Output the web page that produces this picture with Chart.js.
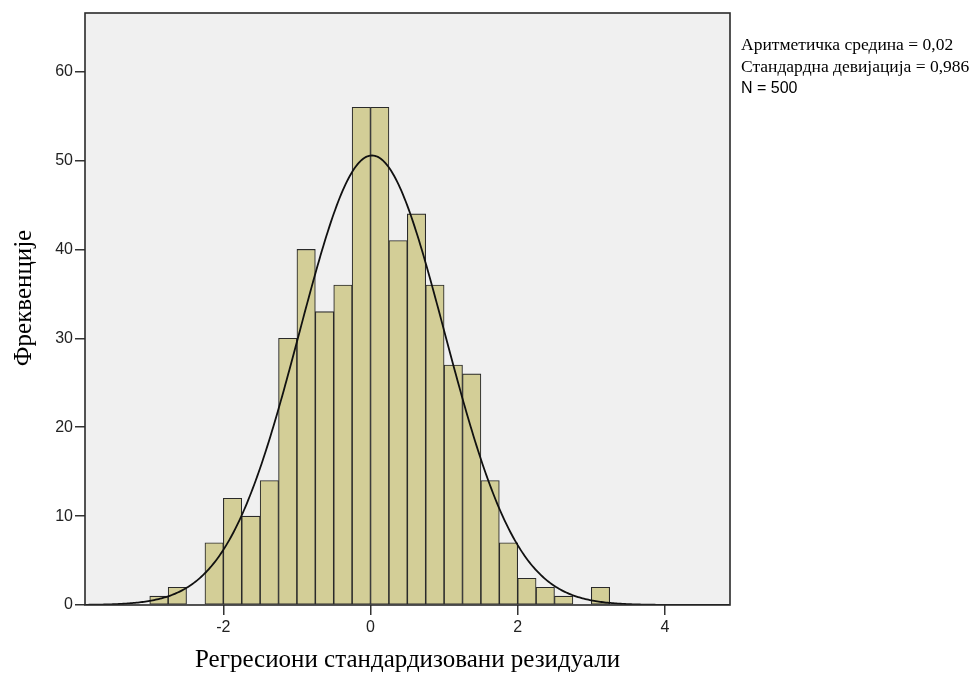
<!DOCTYPE html>
<html>
<head>
<meta charset="utf-8">
<script src="https://cdn.jsdelivr.net/npm/chart.js@4/dist/chart.umd.min.js"></script>
<style>
  html, body { margin: 0; padding: 0; background: #ffffff; }
  #wrap { width: 973px; height: 675px; }
</style>
</head>
<body>
<div id="wrap"><canvas id="hist" width="973" height="675"></canvas></div>
<script>
// Histogram of standardized regression residuals (bin width 0.25)
const binStarts = [-3.00, -2.75, -2.50, -2.25, -2.00, -1.75, -1.50, -1.25, -1.00, -0.75,
                   -0.50, -0.25, 0.00, 0.25, 0.50, 0.75, 1.00, 1.25, 1.50, 1.75,
                   2.00, 2.25, 2.50, 2.75, 3.00];
const counts = [1, 2, 0, 7, 12, 10, 14, 30, 40, 33,
                36, 56, 56, 41, 44, 36, 27, 26, 14, 7,
                3, 2, 1, 0, 2];
const binWidth = 0.25;

// Summary statistics shown beside the plot
const meanValue = 0.02;
const sdValue = 0.986;
const nValue = 500;
const statLines = ['Аритметичка средина = 0,02', 'Стандардна девијација = 0,986', 'N = 500'];

const xTickValues = [-2, 0, 2, 4];
const yTickValues = [0, 10, 20, 30, 40, 50, 60];
const xRange = [-3.88, 4.885];
const yRange = [0, 66.6];

const xTitle = 'Регресиони стандардизовани резидуали';
const yTitle = 'Фреквенције';

// Bars placed at bin centres
const barPoints = binStarts.map((s, i) => ({ x: s + binWidth / 2, y: counts[i] }));

// Fitted normal curve scaled to counts per bin
const curvePoints = [];
for (let x = xRange[0]; x <= xRange[1] + 1e-9; x += 0.02) {
  const z = (x - meanValue) / sdValue;
  const dens = Math.exp(-0.5 * z * z) / (sdValue * Math.sqrt(2 * Math.PI));
  curvePoints.push({ x: x, y: nValue * binWidth * dens });
}

const frame = {
  id: 'frame',
  beforeDraw(chart) {
    const { ctx, chartArea: a } = chart;
    ctx.save();
    ctx.fillStyle = '#ffffff';
    ctx.fillRect(0, 0, chart.width, chart.height);
    ctx.fillStyle = '#f0f0f0';
    ctx.fillRect(a.left, a.top, a.right - a.left, a.bottom - a.top);
    ctx.restore();
  },
  afterDraw(chart) {
    const { ctx, chartArea: a } = chart;
    ctx.save();
    ctx.strokeStyle = '#2a2a2a';
    ctx.lineWidth = 1.6;
    ctx.strokeRect(a.left, a.top, a.right - a.left, a.bottom - a.top);

    // vertical axis title
    ctx.fillStyle = '#000000';
    ctx.font = '25px "Liberation Serif", "DejaVu Serif", serif';
    ctx.textAlign = 'center';
    ctx.textBaseline = 'middle';
    ctx.translate(24, 298);
    ctx.rotate(-Math.PI / 2);
    ctx.fillText(yTitle, 0, 0);
    ctx.restore();

    // statistics block
    ctx.save();
    ctx.fillStyle = '#000000';
    ctx.textAlign = 'left';
    ctx.textBaseline = 'middle';
    const ys = [45, 67, 89];
    statLines.forEach((t, i) => {
      ctx.font = i < 2 ? '17.5px "Liberation Serif", "DejaVu Serif", serif'
                       : '16px "Liberation Sans", Arial, sans-serif';
      ctx.fillText(t, 741, ys[i]);
    });
    ctx.restore();
  }
};

new Chart(document.getElementById('hist'), {
  data: {
    datasets: [
      {
        type: 'line',
        data: curvePoints,
        borderColor: '#111111',
        borderWidth: 1.8,
        pointRadius: 0,
        tension: 0,
        fill: false,
        order: 0
      },
      {
        type: 'bar',
        data: barPoints,
        backgroundColor: '#d3ce97',
        borderColor: '#2a2a2a',
        borderWidth: 1.1,
        borderSkipped: false,
        barPercentage: 1,
        categoryPercentage: 1,
        order: 1
      }
    ]
  },
  options: {
    responsive: false,
    animation: false,
    devicePixelRatio: 1,
    layout: { padding: { left: 0, right: 243, top: 13, bottom: 0 } },
    plugins: { legend: { display: false }, tooltip: { enabled: false } },
    scales: {
      x: {
        type: 'linear',
        min: xRange[0],
        max: xRange[1],
        offset: false,
        afterBuildTicks(scale) { scale.ticks = xTickValues.map(v => ({ value: v })); },
        afterFit(scale) { scale.height = 70; },
        grid: { offset: false, drawOnChartArea: false, drawTicks: true, tickLength: 10, color: '#333333', lineWidth: 1.5 },
        border: { display: false },
        ticks: {
          color: '#222222',
          padding: 3,
          maxRotation: 0,
          font: { family: '"Liberation Sans", Arial, sans-serif', size: 16 },
          callback: v => String(v)
        },
        title: {
          display: true,
          text: xTitle,
          color: '#000000',
          padding: { top: 0, bottom: 0 },
          font: { family: '"Liberation Serif", "DejaVu Serif", serif', size: 25 }
        }
      },
      y: {
        type: 'linear',
        min: yRange[0],
        max: yRange[1],
        afterBuildTicks(scale) { scale.ticks = yTickValues.map(v => ({ value: v })); },
        afterFit(scale) { scale.width = 85; },
        grid: { drawOnChartArea: false, drawTicks: true, tickLength: 10, color: '#333333', lineWidth: 1.5 },
        border: { display: false },
        ticks: {
          color: '#222222',
          padding: 2,
          font: { family: '"Liberation Sans", Arial, sans-serif', size: 16 },
          callback: v => String(v)
        }
      }
    }
  },
  plugins: [frame]
});
</script>
</body>
</html>
